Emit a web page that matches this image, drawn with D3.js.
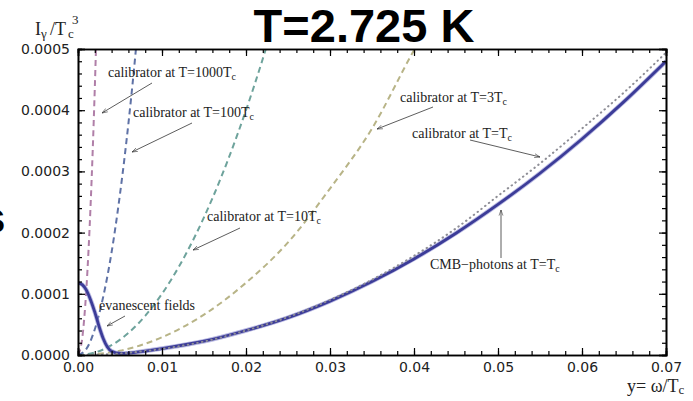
<!DOCTYPE html>
<html>
<head>
<meta charset="utf-8">
<script src="https://cdn.jsdelivr.net/npm/d3@7"></script>
<style>
  body { margin: 0; background: #fff; }
  svg { display: block; }
</style>
</head>
<body>
<div id="chart"></div>
<script>
var width = 693;
var height = 401;

// values, intensities in units of 1e-4
var xCMB = [0, 0.0005, 0.001, 0.0015, 0.002, 0.0025, 0.003, 0.0035, 0.004, 0.005, 0.006, 0.008, 0.01, 0.015, 0.02, 0.025, 0.03, 0.035, 0.04, 0.045, 0.05, 0.055, 0.06, 0.065, 0.07];
var yCMB = [1.18, 1.15, 1.06, 0.90, 0.70, 0.47, 0.27, 0.13, 0.06, 0.025, 0.03, 0.065, 0.105, 0.225, 0.40, 0.61, 0.88, 1.20, 1.57, 1.99, 2.46, 2.97, 3.53, 4.14, 4.80];

var xCal1 = [0, 0.005, 0.01, 0.015, 0.02, 0.025, 0.03, 0.035, 0.04, 0.045, 0.05, 0.055, 0.06, 0.065, 0.07];
var yCal1 = [0, 0.025, 0.10, 0.22, 0.40, 0.62, 0.90, 1.23, 1.62, 2.07, 2.60, 3.13, 3.70, 4.29, 4.94];

var xCal3 = [0, 0.005, 0.01, 0.015, 0.02, 0.025, 0.03, 0.035, 0.04, 0.042];
var yCal3 = [0, 0.07, 0.29, 0.66, 1.18, 1.84, 2.72, 3.70, 4.98, 5.45];

var xCal10 = [0, 0.002, 0.004, 0.006, 0.008, 0.01, 0.012, 0.014, 0.016, 0.018, 0.02, 0.022, 0.023];
var yCal10 = [0, 0.04, 0.16, 0.36, 0.64, 1.0, 1.44, 1.96, 2.56, 3.24, 4.0, 4.84, 5.29];

var xCal100 = [0, 0.001, 0.002, 0.003, 0.004, 0.005, 0.006, 0.007, 0.0072];
var yCal100 = [0, 0.10, 0.42, 0.95, 1.68, 2.63, 3.78, 5.15, 5.45];

var xCal1000 = [0, 0.0005, 0.001, 0.0015, 0.002, 0.0023];
var yCal1000 = [0, 0.27, 1.09, 2.45, 4.36, 5.77];

var xTicks = [0, 0.01, 0.02, 0.03, 0.04, 0.05, 0.06, 0.07];
var yTicks = [0, 0.0001, 0.0002, 0.0003, 0.0004, 0.0005];

var svg = d3.select("#chart")
  .append("svg")
    .attr("width", width)
    .attr("height", height);

var x = d3.scaleLinear().domain([0, 0.07]).range([78, 666]);
var y = d3.scaleLinear().domain([0, 0.0005]).range([355, 49]);

svg.append("clipPath").attr("id", "plot")
  .append("rect")
    .attr("x", 78).attr("y", 49)
    .attr("width", 588).attr("height", 306);

function pts(xs, ys) {
  return xs.map(function(d, i) { return [d, ys[i] * 1e-4]; });
}

var line = d3.line()
  .x(function(d) { return x(d[0]); })
  .y(function(d) { return y(d[1]); })
  .curve(d3.curveMonotoneX);

var g = svg.append("g").attr("clip-path", "url(#plot)");

// calibrator curves (dashed)
var dashed = [
  { data: pts(xCal3, yCal3), color: "#b8b487" },
  { data: pts(xCal10, yCal10), color: "#6ea39c" },
  { data: pts(xCal100, yCal100), color: "#5f72a6" },
  { data: pts(xCal1000, yCal1000), color: "#b07fa8" }
];

dashed.forEach(function(s) {
  g.append("path")
    .attr("d", line(s.data))
    .attr("fill", "none")
    .attr("stroke", s.color)
    .attr("stroke-width", 2)
    .attr("stroke-dasharray", "6,4");
});

// CMB photons, solid
g.append("path")
  .attr("d", line(pts(xCMB, yCMB)))
  .attr("fill", "none")
  .attr("stroke", "#8c8cd0")
  .attr("stroke-width", 4.5)
  .attr("opacity", 0.6);
g.append("path")
  .attr("d", line(pts(xCMB, yCMB)))
  .attr("fill", "none")
  .attr("stroke", "#3c3c98")
  .attr("stroke-width", 2.8);

// calibrator at T=Tc, dotted
g.append("path")
  .attr("d", line(pts(xCal1, yCal1)))
  .attr("fill", "none")
  .attr("stroke", "#8e8e96")
  .attr("stroke-width", 2)
  .attr("stroke-linecap", "round")
  .attr("stroke-dasharray", "0.5,4.3");

// axes, ticks point inward
function minor(lo, hi, step) {
  var out = [];
  for (var v = lo; v <= hi + step / 2; v += step) out.push(+v.toFixed(6));
  return out;
}
var xMinor = minor(0, 0.07, 0.002);
var yMinor = minor(0, 0.0005, 0.00002);

var axisFont = "'DejaVu Sans', sans-serif";

svg.append("g").attr("transform", "translate(0,355)")
  .call(d3.axisBottom(x).tickValues(xTicks).tickSize(-7).tickPadding(7)
    .tickFormat(d3.format(".2f")));
svg.append("g").attr("transform", "translate(0,355)")
  .call(d3.axisBottom(x).tickValues(xMinor).tickSize(-4).tickFormat(""));
svg.append("g").attr("transform", "translate(0,49)")
  .call(d3.axisTop(x).tickValues(xTicks).tickSize(-7).tickFormat(""));
svg.append("g").attr("transform", "translate(0,49)")
  .call(d3.axisTop(x).tickValues(xMinor).tickSize(-4).tickFormat(""));

svg.append("g").attr("transform", "translate(78,0)")
  .call(d3.axisLeft(y).tickValues(yTicks).tickSize(-7).tickPadding(8)
    .tickFormat(d3.format(".4f")));
svg.append("g").attr("transform", "translate(78,0)")
  .call(d3.axisLeft(y).tickValues(yMinor).tickSize(-4).tickFormat(""));
svg.append("g").attr("transform", "translate(666,0)")
  .call(d3.axisRight(y).tickValues(yTicks).tickSize(-7).tickFormat(""));
svg.append("g").attr("transform", "translate(666,0)")
  .call(d3.axisRight(y).tickValues(yMinor).tickSize(-4).tickFormat(""));

svg.selectAll(".domain").attr("stroke", "#000").attr("stroke-width", 1.6);
svg.selectAll(".tick line").attr("stroke", "#000").attr("stroke-width", 1.2);
svg.selectAll(".tick text")
  .attr("font-family", axisFont)
  .attr("font-size", 14)
  .attr("fill", "#222");

// axis titles
var serif = "'Liberation Serif', 'Times New Roman', Times, serif";

var yl = svg.append("text")
  .attr("y", 35)
  .attr("font-family", serif).attr("font-size", 18).attr("fill", "#222");
yl.append("tspan").attr("x", 35).text("I");
yl.append("tspan").attr("x", 41).attr("dy", 3).attr("font-size", 13).text("\u03b3");
yl.append("tspan").attr("x", 50).attr("dy", -3).text("/T");
yl.append("tspan").attr("x", 68).attr("dy", 3).attr("font-size", 13).text("c");
svg.append("text")
  .attr("x", 72).attr("y", 24)
  .attr("font-family", serif).attr("font-size", 13).attr("fill", "#222")
  .text("3");

var xl = svg.append("text")
  .attr("x", 627).attr("y", 392)
  .attr("font-family", serif).attr("font-size", 18).attr("fill", "#222");
xl.append("tspan").text("y= \u03c9/T");
xl.append("tspan").attr("font-size", 13).attr("dy", 2).text("c");

// annotations
var notes = [
  { label: "calibrator at T=1000T", sub: "c", tx: 108, ty: 77, from: [152, 83], to: [102, 113] },
  { label: "calibrator at T=100T", sub: "c", tx: 133, ty: 117, from: [192, 123], to: [132, 152] },
  { label: "calibrator at T=10T", sub: "c", tx: 207, ty: 221, from: [240, 228], to: [193, 250] },
  { label: "evanescent fields", sub: "", tx: 99, ty: 310, from: [125, 316], to: [107, 326] },
  { label: "calibrator at T=3T", sub: "c", tx: 400, ty: 102, from: [433, 107], to: [377, 129] },
  { label: "calibrator at T=T", sub: "c", tx: 412, ty: 138, from: [470, 140], to: [540, 157] },
  { label: "CMB\u2212photons at T=T", sub: "c", tx: 430, ty: 269, from: [501, 258], to: [501, 210] }
];

svg.append("defs").append("marker")
  .attr("id", "head")
  .attr("viewBox", "0 0 10 10")
  .attr("refX", 10).attr("refY", 5)
  .attr("markerWidth", 7).attr("markerHeight", 7)
  .attr("orient", "auto")
  .append("path")
    .attr("d", "M0,1.5 L10,5 L0,8.5")
    .attr("fill", "none")
    .attr("stroke", "#333")
    .attr("stroke-width", 1);

notes.forEach(function(n) {
  var t = svg.append("text")
    .attr("x", n.tx).attr("y", n.ty)
    .attr("font-family", serif).attr("font-size", 14).attr("fill", "#222");
  t.append("tspan").text(n.label);
  if (n.sub) t.append("tspan").attr("font-size", 10).attr("dy", 3).text(n.sub);
  svg.append("line")
    .attr("x1", n.from[0]).attr("y1", n.from[1])
    .attr("x2", n.to[0]).attr("y2", n.to[1])
    .attr("stroke", "#333").attr("stroke-width", 0.8)
    .attr("marker-end", "url(#head)");
});

// title
svg.append("text")
  .attr("x", 364).attr("y", 42)
  .attr("text-anchor", "middle")
  .attr("font-family", "'Liberation Sans', Arial, sans-serif")
  .attr("font-weight", "bold")
  .attr("font-size", 47)
  .attr("fill", "#000")
  .text("T=2.725 K");

// cut-off slide text around the figure
var bigFont = "'Liberation Sans', Arial, sans-serif";
svg.append("text")
  .attr("x", -19).attr("y", 233)
  .attr("font-family", bigFont).attr("font-weight", "bold")
  .attr("font-size", 44).attr("fill", "#000")
  .text("s");
svg.append("text")
  .attr("x", 300).attr("y", 433)
  .attr("font-family", bigFont).attr("font-weight", "bold")
  .attr("font-size", 44).attr("fill", "#000")
  .text("lk   d l l  f  r  d  f     d");
</script>
</body>
</html>
